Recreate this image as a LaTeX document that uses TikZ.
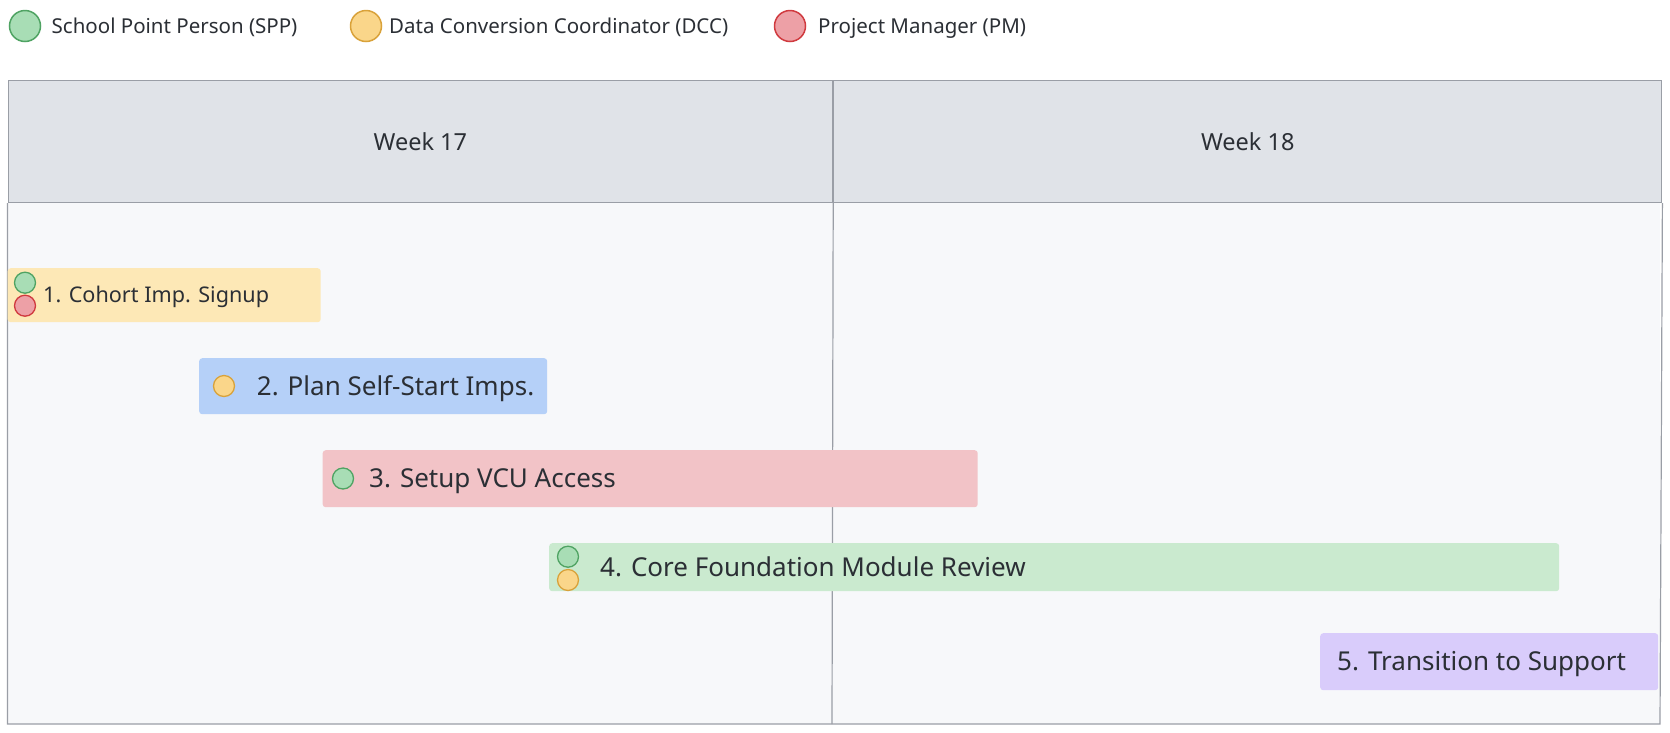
\documentclass[tikz,border=0pt]{standalone}
\usepackage{fontspec}
\setmainfont{Noto Sans}
\usetikzlibrary{positioning}

\definecolor{inkgray}{HTML}{2B2F35}
\definecolor{gridline}{HTML}{9A9EA6}
\definecolor{headfill}{HTML}{E0E3E8}
\definecolor{bodyfill}{HTML}{F7F8FA}
\definecolor{barone}{HTML}{FDE8B6}
\definecolor{bartwo}{HTML}{B5D0F8}
\definecolor{barthree}{HTML}{F2C3C7}
\definecolor{barfour}{HTML}{CAEACF}
\definecolor{barfive}{HTML}{D9CCFB}
\definecolor{sppfill}{HTML}{A8DDB5}
\definecolor{sppline}{HTML}{4FA363}
\definecolor{dccfill}{HTML}{FAD68A}
\definecolor{dccline}{HTML}{D9A23A}
\definecolor{pmfill}{HTML}{EDA0A6}
\definecolor{pmline}{HTML}{D03A3F}

\tikzset{
  bar/.style={rectangle, rounded corners=3pt, draw=none, anchor=north west, inner sep=0pt},
  role/.style={circle, inner sep=0pt, minimum size=21pt, line width=1.3pt},
  legendrole/.style={role, minimum size=31pt, line width=1.5pt},
  spp/.style={fill=sppfill, draw=sppline},
  dcc/.style={fill=dccfill, draw=dccline},
  pm/.style={fill=pmfill, draw=pmline},
  label/.style={anchor=west, inner sep=0pt, text=inkgray, text depth=0pt},
  legendtext/.style={label, font=\fontsize{20.5}{24}\selectfont, text height=14.6pt},
  bartext/.style={label, font=\fontsize{26}{30}\selectfont, text height=18.6pt},
  headcell/.style={rectangle, draw=gridline, line width=1.2pt, fill=headfill, inner sep=0pt,
    text=inkgray, font=\fontsize{23.5}{28}\selectfont, minimum height=122pt},
}

\begin{document}
\begin{tikzpicture}[x=1pt,y=-1pt]
    \useasboundingbox[fill=white] (0,0) rectangle (1670,732);

    % legend
    \node[legendrole,spp] (lspp) at (25,26) {};
    \node[legendtext] (tspp) at (51.5,26) {School Point Person (SPP)};
    \node[legendrole,dcc] (ldcc) at (366,26) {};
    \node[legendtext] (tdcc) at (389,26) {Data Conversion Coordinator (DCC)};
    \node[legendrole,pm] (lpm) at (790,26) {};
    \node[legendtext] (tpm) at (818,26) {Project Manager (PM)};

    % chart frame
    \fill[bodyfill] (7.5,202) rectangle (1660,724);
    \node[headcell, minimum width=824.5pt, anchor=north west] (w17) at (7.5,80) {Week 17};
    \node[headcell, minimum width=828pt, anchor=north west] (w18) at (w17.north east) {Week 18};
    \coordinate (bottomleft) at (7.5,724);
    \coordinate (bottommid) at (832,724);
    \coordinate (bottomright) at (1660,724);
    \draw[gridline, line width=1.2pt] (w17.south west) -- (bottomleft) -- (bottomright) -- (w18.south east);
    \draw[gridline, line width=1.2pt] (w17.south east) -- (bottommid);

    % tasks
    \node[bar, fill=barone, minimum width=313pt, minimum height=54pt] (b1) at (7.5,268) {};
    \node[role,spp] (b1spp) at (25,282.7) {};
    \node[role,pm] (b1pm) at (25,305.7) {};
    \node[label, font=\fontsize{21.6}{26}\selectfont, text height=15.4pt] (t1) at (43,295) {1. Cohort Imp. Signup};

    \node[bar, fill=bartwo, minimum width=348pt, minimum height=56pt] (b2) at (199,358) {};
    \node[role,dcc] (b2dcc) at (224,386) {};
    \node[bartext] (t2) at (256.7,386) {2. Plan Self-Start Imps.};

    \node[bar, fill=barthree, minimum width=655pt, minimum height=57pt] (b3) at (322.5,450) {};
    \node[role,spp] (b3spp) at (343,478.5) {};
    \node[bartext] (t3) at (369,478.5) {3. Setup VCU Access};

    \node[bar, fill=barfour, minimum width=1010pt, minimum height=48pt] (b4) at (549,543) {};
    \node[role,spp] (b4spp) at (568,556.7) {};
    \node[role,dcc] (b4dcc) at (568,580) {};
    \node[bartext] (t4) at (600,567) {4. Core Foundation Module Review};

    \node[bar, fill=barfive, minimum width=338pt, minimum height=57pt] (b5) at (1320,633) {};
    \node[bartext] (t5) at (1337,661.5) {5. Transition to Support};
\end{tikzpicture}
\end{document}
